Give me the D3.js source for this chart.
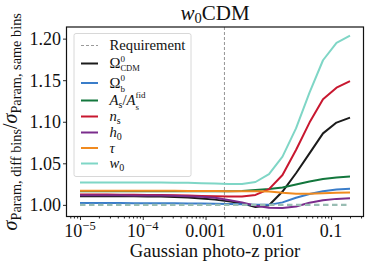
<!DOCTYPE html>
<html>
<head>
<meta charset="utf-8">
<script src="https://cdn.jsdelivr.net/npm/d3@7"></script>
<style>
  body { margin: 0; background: #fff; }
  svg text { font-family: "Liberation Serif", "Times New Roman", "DejaVu Serif", serif !important; fill: #111; }
</style>
</head>
<body>
<svg id="chart" width="374" height="267"></svg>
<script>
// photo-z prior values (log spaced, 1e-5 .. 0.2)
const priors = [1.0e-5, 1.641e-5, 2.692e-5, 4.417e-5, 7.248e-5, 1.189e-4, 1.951e-4, 3.201e-4,
  5.253e-4, 8.618e-4, 1.414e-3, 2.320e-3, 3.807e-3, 6.246e-3, 0.01025, 0.01682, 0.02759,
  0.04527, 0.07427, 0.1219, 0.2];

const omegaCDM = [1.0105, 1.0105, 1.0105, 1.0105, 1.0104, 1.0102, 1.0100, 1.0096, 1.0089, 1.0078,
  1.0063, 1.0042, 1.0018, 0.9975, 0.9995, 1.016, 1.038, 1.062, 1.086, 1.099, 1.105];
const omegaB = [1.0022, 1.0022, 1.0021, 1.0021, 1.0020, 1.0020, 1.0019, 1.0018, 1.0017, 1.0016,
  1.0014, 1.0011, 1.0006, 1.0001, 1.0000, 1.003, 1.0085, 1.013, 1.0165, 1.0185, 1.0195];
const As = [1.0163, 1.0163, 1.0163, 1.0163, 1.0163, 1.0163, 1.0163, 1.0163, 1.0163, 1.0163,
  1.0163, 1.0164, 1.0168, 1.018, 1.019, 1.021, 1.0245, 1.028, 1.031, 1.033, 1.034];
const ns = [1.0125, 1.0125, 1.0124, 1.0123, 1.0122, 1.012, 1.0118, 1.0115, 1.0112, 1.0108,
  1.0104, 1.0101, 1.0100, 1.012, 1.019, 1.036, 1.066, 1.099, 1.127, 1.141, 1.149];
const h0 = [1.0115, 1.0115, 1.0115, 1.0115, 1.0114, 1.0113, 1.0112, 1.0110, 1.0105, 1.0098,
  1.0085, 1.0058, 1.003, 0.999, 0.9965, 0.9963, 0.998, 1.0025, 1.0055, 1.0072, 1.008];
const tau = [1.017, 1.017, 1.017, 1.017, 1.017, 1.017, 1.017, 1.0169, 1.0168, 1.0167,
  1.0166, 1.0165, 1.0164, 1.0163, 1.016, 1.0145, 1.0135, 1.0135, 1.014, 1.0145, 1.015];
const w0 = [1.027, 1.027, 1.027, 1.027, 1.027, 1.0269, 1.0268, 1.0267, 1.0265, 1.0261,
  1.0256, 1.0251, 1.025, 1.0275, 1.037, 1.058, 1.092, 1.135, 1.174, 1.195, 1.2035];

const requirement = 1.0;
const markerPrior = 0.002;
const yTicks = [1.00, 1.05, 1.10, 1.15, 1.20];
const xMajor = [1e-5, 1e-4, 1e-3, 1e-2, 1e-1];

const series = [
  { values: omegaCDM, color: "#1b1b1b" },
  { values: omegaB, color: "#3a7dc9" },
  { values: As, color: "#13773d" },
  { values: ns, color: "#c8172f" },
  { values: h0, color: "#7a2c8c" },
  { values: tau, color: "#f08a1f" },
  { values: w0, color: "#7fd6c6" }
];

const svg = d3.select("#chart");
const pL = 66.5, pR = 363.5, pT = 27, pB = 216.5;

const x = d3.scaleLog().domain([Math.pow(10, -5.215), Math.pow(10, -0.484)]).range([pL, pR]);
const y = d3.scaleLinear().domain([0.986, 1.214]).range([pB, pT]);

// write a bit of math-like text from pieces; returns the group
function mathText(g, px, py, parts, anchor) {
  const grp = g.append("g");
  let cx = 0, prevStart = 0, prevW = 0;
  parts.forEach(p => {
    const start = p.stack ? prevStart : cx;
    const t = grp.append("text")
      .attr("x", start).attr("y", p.dy || 0)
      .style("font-size", (p.fs || 14.7) + "px")
      .style("font-style", p.it ? "italic" : "normal")
      .text(p.t);
    const w = t.node().getComputedTextLength();
    if (p.stack) {
      cx = prevStart + Math.max(prevW, w);
    } else {
      prevStart = start; prevW = w;
      cx = start + w;
    }
  });
  let shift = 0;
  if (anchor === "middle") shift = -cx / 2;
  if (anchor === "end") shift = -cx;
  grp.attr("transform", `translate(${px + shift},${py})`);
  return grp;
}

// vertical prior marker
svg.append("line")
  .attr("x1", x(markerPrior)).attr("x2", x(markerPrior))
  .attr("y1", pT).attr("y2", pB)
  .attr("stroke", "#888").attr("stroke-width", 0.9)
  .attr("stroke-dasharray", "3,2");

const line = d3.line()
  .x((d, i) => x(priors[i]))
  .y(d => y(d));

series.forEach(s => {
  svg.append("path")
    .datum(s.values)
    .attr("d", line)
    .attr("fill", "none")
    .attr("stroke", s.color)
    .attr("stroke-width", 2)
    .attr("stroke-linejoin", "round");
});

// requirement line
svg.append("path")
  .datum(priors.map(() => requirement))
  .attr("d", line)
  .attr("fill", "none")
  .attr("stroke", "#99bdb3")
  .attr("stroke-width", 2.3)
  .attr("stroke-dasharray", "5.5,3.5");

// axes
const minor = [];
for (let e = -6; e <= -1; e++) {
  for (let m = 2; m <= 9; m++) {
    const v = m * Math.pow(10, e);
    if (v > x.domain()[0] && v < x.domain()[1]) minor.push(v);
  }
}
const xAxisMinor = svg.append("g")
  .attr("transform", `translate(0,${pB})`)
  .call(d3.axisBottom(x).tickValues(minor).tickSize(2).tickFormat(""));
const xAxis = svg.append("g")
  .attr("transform", `translate(0,${pB})`)
  .call(d3.axisBottom(x).tickValues(xMajor).tickSize(3.5).tickFormat(""));
const yAxis = svg.append("g")
  .attr("transform", `translate(${pL},0)`)
  .call(d3.axisLeft(y).tickValues(yTicks).tickSize(3.5).tickPadding(2).tickFormat(d3.format(".2f")));

[xAxisMinor, xAxis, yAxis].forEach(a => {
  a.select(".domain").remove();
  a.attr("font-family", null);
  a.selectAll(".tick line").attr("stroke", "#111").attr("stroke-width", 0.9);
});
yAxis.selectAll(".tick text")
  .style("font-size", "18px")
  .attr("fill", "#111")
  .attr("dy", "0.33em");

// x tick labels
const xLabels = [
  [{ t: "10", fs: 18 }, { t: "\u22125", fs: 12.5, dy: -7.5 }],
  [{ t: "10", fs: 18 }, { t: "\u22124", fs: 12.5, dy: -7.5 }],
  [{ t: "0.001", fs: 18 }],
  [{ t: "0.01", fs: 18 }],
  [{ t: "0.1", fs: 18 }]
];
xMajor.forEach((v, i) => mathText(svg, x(v), 237, xLabels[i], "middle"));

// frame
svg.append("rect")
  .attr("x", pL).attr("y", pT)
  .attr("width", pR - pL).attr("height", pB - pT)
  .attr("fill", "none").attr("stroke", "#111").attr("stroke-width", 1.2);

// title
mathText(svg, (pL + pR) / 2, 19.5, [
  { t: "w", it: true, fs: 21 }, { t: "0", fs: 14.5, dy: 3.5 }, { t: "CDM", fs: 21 }
], "middle");

// x label
svg.append("text")
  .attr("x", (pL + pR) / 2).attr("y", 257)
  .attr("text-anchor", "middle")
  .style("font-size", "18.6px")
  .text("Gaussian photo-z prior");

// y label (rotated)
const yl = mathText(svg, 0, 0, [
  { t: "\u03c3", it: true, fs: 20 }, { t: "Param, diff bins", fs: 14.3, dy: 4 },
  { t: "/", fs: 20 },
  { t: "\u03c3", it: true, fs: 20 }, { t: "Param, same bins", fs: 14.3, dy: 4 }
], "middle");
const ylTr = yl.attr("transform");
yl.attr("transform", `translate(17,${(pT + pB) / 2}) rotate(-90) ${ylTr}`);

// legend
const leg = svg.append("g");
leg.append("rect")
  .attr("x", 74).attr("y", 33.5).attr("width", 117).attr("height", 143)
  .attr("rx", 2)
  .attr("fill", "#fff").attr("fill-opacity", 0.85)
  .attr("stroke", "#d8d8d8").attr("stroke-width", 1);

const legendItems = [
  { color: "#9a9a9a", dash: "3,2", w: 1, y: 45.5, parts: [{ t: "Requirement" }] },
  { color: series[0].color, y: 63.5, parts: [{ t: "\u03a9" }, { t: "0", fs: 9, dy: -6 }, { t: "CDM", fs: 8.5, dy: 3, stack: true }] },
  { color: series[1].color, y: 83, parts: [{ t: "\u03a9" }, { t: "0", fs: 9, dy: -6.5 }, { t: "b", fs: 9, dy: 4, stack: true }] },
  { color: series[2].color, y: 100.5, parts: [{ t: "A", it: true }, { t: "s", fs: 10, dy: 3 }, { t: "/" }, { t: "A", it: true }, { t: "fid", fs: 9, dy: -7 }, { t: "s", fs: 9, dy: 4.5, stack: true }] },
  { color: series[3].color, y: 116.5, parts: [{ t: "n", it: true }, { t: "s", fs: 10, dy: 3 }] },
  { color: series[4].color, y: 132.5, parts: [{ t: "h", it: true }, { t: "0", fs: 10, dy: 3 }] },
  { color: series[5].color, y: 148, parts: [{ t: "\u03c4", it: true }] },
  { color: series[6].color, y: 163.5, parts: [{ t: "w", it: true }, { t: "0", fs: 10, dy: 3 }] }
];
legendItems.forEach(d => {
  leg.append("line")
    .attr("x1", 81).attr("x2", 98).attr("y1", d.y).attr("y2", d.y)
    .attr("stroke", d.color).attr("stroke-width", d.w || 2)
    .attr("stroke-dasharray", d.dash || null);
  mathText(leg, 109.5, d.y + 4.5, d.parts, "start");
});
</script>
</body>
</html>
